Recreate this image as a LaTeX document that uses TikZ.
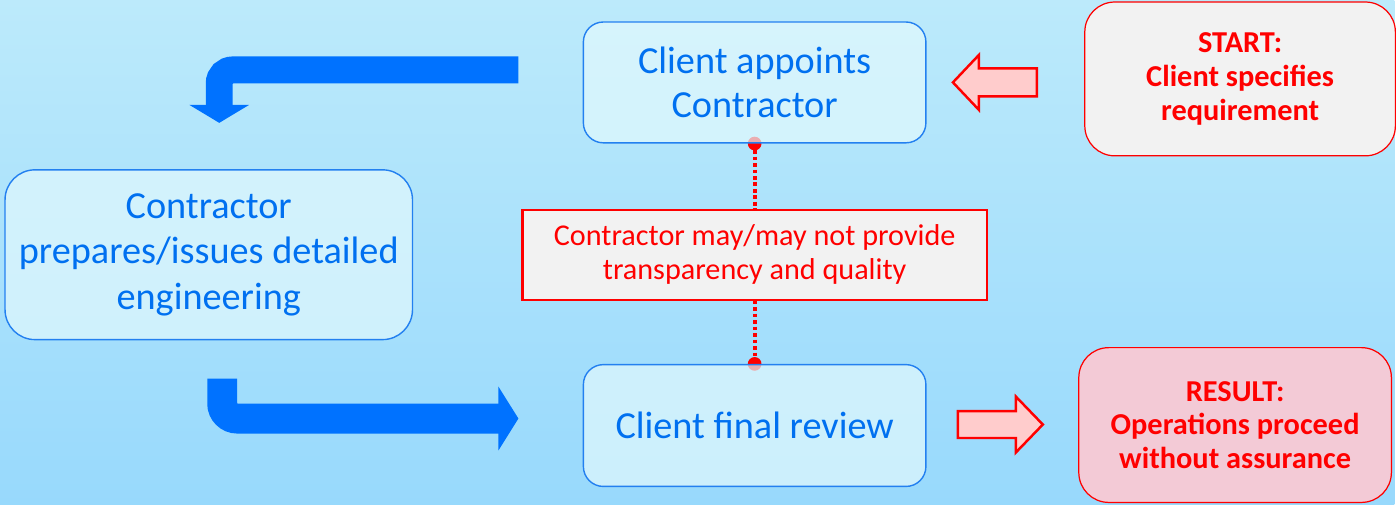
\documentclass[tikz,border=0pt]{standalone}
\usepackage{fontspec}
\setmainfont{Carlito}
\usetikzlibrary{arrows.meta}
\definecolor{bgtop}{RGB}{188,234,251}
\definecolor{bgbot}{RGB}{152,217,252}
\definecolor{boxfill}{RGB}{226,249,253}
\definecolor{boxline}{RGB}{35,128,240}
\definecolor{txtblue}{RGB}{0,112,240}
\definecolor{flowblue}{RGB}{0,114,255}
\definecolor{notegrey}{RGB}{242,242,242}
\definecolor{resultpink}{RGB}{243,202,214}
\definecolor{blockpink}{RGB}{255,204,204}
\pgfdeclarelayer{back}
\pgfdeclarelayer{mid}
\pgfsetlayers{back,mid,main}
\begin{document}
\begin{tikzpicture}[x=0.02cm, y=-0.02cm,
	stepbox/.style={draw=boxline, line width=0.8pt, fill=boxfill, fill opacity=0.7, text opacity=1, rounded corners=0.4cm, text=txtblue, align=center, inner sep=0pt, font=\fontsize{21.8}{25}\selectfont},
	endbox/.style={draw=red, line width=0.7pt, rounded corners=0.6cm, text=red, align=center, inner sep=0pt, font=\bfseries\fontsize{17.3}{19.2}\selectfont},
	notebox/.style={draw=red, line width=1.2pt, fill=notegrey, text=red, align=center, inner sep=0pt, font=\fontsize{17.2}{19.4}\selectfont},
	flow/.style={draw=flowblue},
	block/.style={draw=red, line width=1.4pt, fill=blockpink},
	dotlink/.style={red, line width=2.3pt, dash pattern=on 2.1pt off 1.6pt}
	]
	\begin{pgfonlayer}{back}
		\shade[top color=bgtop, bottom color=bgbot] (0,0) rectangle (1396,505);
	\end{pgfonlayer}
	
	\node[stepbox, minimum width=6.86cm, minimum height=2.42cm] (appoint) at (755.5,82.5) {Client appoints\\Contractor};
	\node[stepbox, minimum width=8.16cm, minimum height=3.4cm, rounded corners=0.6cm, font=\fontsize{21.8}{26}\selectfont] (detail) at (209,255) {Contractor\\prepares/issues detailed\\engineering};
	\node[stepbox, minimum width=6.86cm, minimum height=2.44cm] (review) at (755.5,426) {Client final review};
	\node[notebox, minimum width=9.3cm, minimum height=1.8cm] (note) at (755.5,255) {Contractor may/may not provide\\transparency and quality};
	\node[endbox, fill=notegrey, minimum width=6.22cm, minimum height=3.08cm] (start) at (1241.5,79) {START:\\Client specifies\\requirement};
	\node[endbox, fill=resultpink, minimum width=6.26cm, minimum height=3.1cm] (result) at (1236.5,425.5) {RESULT:\\Operations proceed\\without assurance};
	
	\begin{pgfonlayer}{mid}
		\draw[dotlink] (appoint.south) -- (note.north);
		\draw[dotlink] (note.south) -- (review.north);
		\fill[red] (appoint.south) circle (3.9pt);
		\fill[red] (review.north) circle (3.9pt);
	\end{pgfonlayer}
	
	% blue flow arrows
	\coordinate (topfrom) at (519,70);
	\coordinate (topto) at (219.5,123);
	\draw[flow, line width=0.54cm, rounded corners=0.27cm, -{Triangle[width=1.18cm, length=0.36cm]}] (topfrom) -| (topto);
	\coordinate (botfrom) at (222.5,379);
	\coordinate (botto) at (519,419);
	\draw[flow, line width=0.6cm, rounded corners=0.3cm, -{Triangle[width=1.26cm, length=0.4cm]}] (botfrom) |- (botto);
	
	% red block arrows
	\draw[block] (1038,68.5) -- (980,68.5) -- (980,55) -- (954,82.5) -- (980,110) -- (980,96.5) -- (1038,96.5) -- cycle;
	\draw[block] (959,411.5) -- (1017,411.5) -- (1017,397) -- (1044,425) -- (1017,453) -- (1017,438.5) -- (959,438.5) -- cycle;
\end{tikzpicture}
\end{document}
